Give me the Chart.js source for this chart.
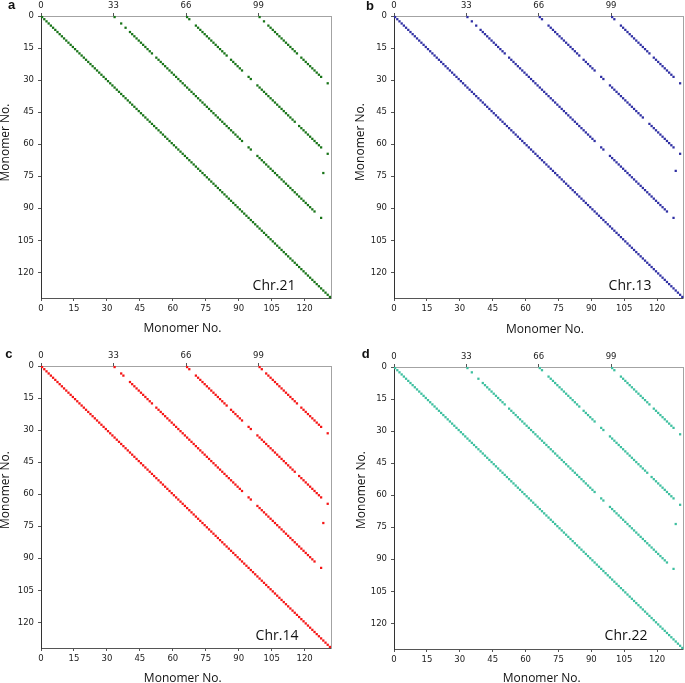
<!DOCTYPE html>
<html>
<head>
<meta charset="utf-8">
<script src="https://cdn.jsdelivr.net/npm/chart.js@4.4.0/dist/chart.umd.min.js"></script>
<style>
  html, body { margin: 0; padding: 0; background: #fff; }
  body { position: relative; width: 685px; height: 683px; overflow: hidden; }
  canvas { position: absolute; }
</style>
</head>
<body>
<canvas id="pa" width="342" height="336" style="left:0;top:0"></canvas>
<canvas id="pb" width="342" height="336" style="left:343px;top:0"></canvas>
<canvas id="pc" width="342" height="343" style="left:0;top:340px"></canvas>
<canvas id="pd" width="342" height="343" style="left:343px;top:340px"></canvas>
<script>
// monomer count on both axes
const axisMax = 132;
const xTicks = [0, 15, 30, 45, 60, 75, 90, 105, 120];
const yTicks = [0, 15, 30, 45, 60, 75, 90, 105, 120];
const topTicks = [0, 33, 66, 99];

const letters = ['a', 'b', 'c', 'd'];
const chrNames = ['Chr.21', 'Chr.13', 'Chr.14', 'Chr.22'];
const axisTitle = 'Monomer No.';

// main diagonal, every monomer matches itself: [first, last]
const selfRun = [0, 131];

// matched monomer runs along the shifted diagonals, [first column, last column]
// row = column - shift
const chr21Off33 = [[33, 33], [36, 36], [38, 38], [40, 50], [52, 91], [94, 95], [98, 124], [127, 127]];
const chr21Off66 = [[66, 67], [70, 84], [86, 91], [94, 95], [98, 115], [117, 127], [130, 130]];
const chr21Off99 = [[99, 99], [101, 101], [103, 116], [118, 127], [130, 130]];
const chr21Extra = [[128, 73]];

const chr13Off33 = [[33, 33], [35, 35], [37, 37], [39, 50], [52, 91], [94, 95], [98, 124], [127, 127]];
const chr13Off66 = [[66, 67], [70, 84], [86, 91], [94, 95], [98, 113], [116, 127], [130, 130]];
const chr13Off99 = [[99, 100], [103, 116], [118, 127], [130, 130]];
const chr13Extra = [[128, 72]];

const chr14Off33 = [[33, 33], [36, 37], [40, 50], [52, 91], [94, 95], [98, 124], [127, 127]];
const chr14Off66 = [[66, 67], [70, 84], [86, 91], [94, 95], [98, 115], [117, 127], [130, 130]];
const chr14Off99 = [[99, 100], [102, 116], [118, 127], [130, 130]];
const chr14Extra = [[128, 73]];

const chr22Off33 = [[33, 33], [35, 35], [38, 38], [40, 50], [52, 91], [94, 95], [98, 124], [127, 127]];
const chr22Off66 = [[66, 67], [70, 84], [86, 91], [94, 95], [98, 115], [117, 127], [130, 130]];
const chr22Off99 = [[99, 100], [103, 116], [118, 127], [130, 130]];
const chr22Extra = [[128, 73]];

const off33 = [chr21Off33, chr13Off33, chr14Off33, chr22Off33];
const off66 = [chr21Off66, chr13Off66, chr14Off66, chr22Off66];
const off99 = [chr21Off99, chr13Off99, chr14Off99, chr22Off99];
const extras = [chr21Extra, chr13Extra, chr14Extra, chr22Extra];

// ---- layout / style (absolute page px) ----
const colors = ['#177317', '#2f2fa3', '#f51515', '#3dbf9f'];
const panels = [
  { id: 'pa', left: 0,   top: 0,   w: 342, h: 336, area: [41, 16, 331, 298],
    letter: [11.7, 8.5], chr: [274, 290], xt: [182.5, 331.5], yt: [8.5, 142.5] },
  { id: 'pb', left: 343, top: 0,   w: 342, h: 336, area: [394, 16, 684, 298],
    letter: [370, 9.5], chr: [630, 290], xt: [545, 332.5], yt: [363.5, 142] },
  { id: 'pc', left: 0,   top: 340, w: 342, h: 343, area: [41, 366, 331, 648],
    letter: [8.8, 357.5], chr: [277, 640], xt: [182.8, 681.5], yt: [9, 490] },
  { id: 'pd', left: 343, top: 340, w: 342, h: 343, area: [394, 367, 684, 649],
    letter: [365.8, 358], chr: [626, 640], xt: [541.7, 681.5], yt: [365, 490] }
];

// cell centres for a list of runs on one diagonal
function cells(runs, shift) {
  const pts = [];
  for (const [a, b] of runs) {
    for (let c = a; c <= b; c++) pts.push({ x: c + 0.5, y: c - shift + 0.5 });
  }
  return pts;
}

// free text (letters, chromosome names, axis titles)
const panelText = {
  id: 'panelText',
  afterDraw(chart, args, opts) {
    const ctx = chart.ctx;
    for (const t of opts.items) {
      ctx.save();
      ctx.font = t.font;
      ctx.fillStyle = '#111';
      ctx.textAlign = 'center';
      ctx.textBaseline = 'alphabetic';
      ctx.translate(t.x - opts.dx, t.y - opts.dy);
      if (t.rotate) ctx.rotate(-Math.PI / 2);
      ctx.fillText(t.text, 0, 0);
      ctx.restore();
    }
  }
};

const tickFont = { family: 'DejaVu Sans', size: 8.5 };
const tickGrid = { display: true, drawOnChartArea: false, drawTicks: true, tickLength: 3, color: '#555' };
const setTicks = (list) => (s) => { s.ticks = list.map(v => ({ value: v })); };

function render(p, i) {
  const el = document.getElementById(p.id);
  const [aL, aT, aR, aB] = p.area;
  const data = [
    ...cells([selfRun], 0),
    ...cells(off33[i], 33),
    ...cells(off66[i], 66),
    ...cells(off99[i], 99),
    ...extras[i].map(([x, y]) => ({ x: x + 0.5, y: y + 0.5 }))
  ];

  new Chart(el, {
    type: 'scatter',
    data: {
      datasets: [{
        data,
        pointStyle: 'rect',
        pointRadius: 1.6,
        pointHoverRadius: 1.6,
        pointBorderWidth: 0,
        backgroundColor: colors[i],
        borderColor: colors[i],
        clip: false
      }]
    },
    options: {
      responsive: false,
      animation: false,
      events: [],
      layout: { padding: { left: 0, top: 0, bottom: 0, right: p.left + p.w - aR } },
      scales: {
        x: {
          type: 'linear', position: 'bottom', min: 0, max: axisMax,
          afterBuildTicks: setTicks(xTicks),
          afterFit: (s) => { s.height = p.top + p.h - aB; },
          ticks: { font: tickFont, color: '#222', padding: 2.5, maxRotation: 0 },
          grid: tickGrid,
          border: { display: true, color: '#555' }
        },
        xTop: {
          type: 'linear', position: 'top', min: 0, max: axisMax,
          afterBuildTicks: setTicks(topTicks),
          afterFit: (s) => { s.height = aT - p.top; },
          ticks: { font: tickFont, color: '#222', padding: 2.5, maxRotation: 0 },
          grid: tickGrid,
          border: { display: true, color: '#a3a3a3' }
        },
        y: {
          type: 'linear', position: 'left', min: 0, max: axisMax, reverse: true,
          afterBuildTicks: setTicks(yTicks),
          afterFit: (s) => { s.width = aL - p.left; },
          ticks: { font: tickFont, color: '#222', padding: 4 },
          grid: tickGrid,
          border: { display: true, color: '#333' }
        },
        yRight: {
          type: 'linear', position: 'right', min: 0, max: axisMax,
          afterFit: (s) => { s.width = 0; },
          ticks: { display: false },
          grid: { display: false },
          border: { display: true, color: '#a3a3a3' }
        }
      },
      plugins: {
        legend: { display: false },
        tooltip: { enabled: false },
        panelText: {
          dx: p.left, dy: p.top,
          items: [
            { text: letters[i], x: p.letter[0], y: p.letter[1], font: 'bold 13px "Liberation Sans"' },
            { text: chrNames[i], x: p.chr[0], y: p.chr[1], font: '14px "Open Sans"' },
            { text: axisTitle, x: p.xt[0], y: p.xt[1], font: '12px "Open Sans"' },
            { text: axisTitle, x: p.yt[0], y: p.yt[1], font: '12px "Open Sans"', rotate: true }
          ]
        }
      }
    },
    plugins: [panelText]
  });
}

panels.forEach(render);
</script>
</body>
</html>
